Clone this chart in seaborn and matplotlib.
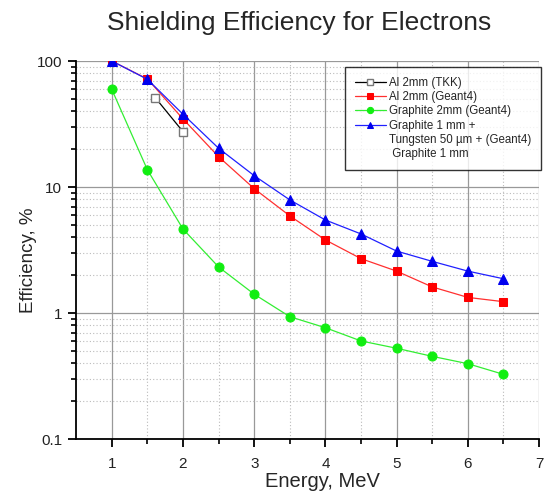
import numpy as np
import pandas as pd
import matplotlib
matplotlib.use("Agg")
import matplotlib.pyplot as plt
import seaborn as sns
from matplotlib.lines import Line2D
from matplotlib.ticker import LogLocator, FixedLocator, NullFormatter

# ---- data ----
energy = [1.0, 1.5, 2.0, 2.5, 3.0, 3.5, 4.0, 4.5, 5.0, 5.5, 6.0, 6.5]
al_geant4 = [100, 72, 34.7, 17.4, 9.7, 5.9, 3.8, 2.7, 2.15, 1.61, 1.33, 1.23]
graphite_2mm = [59.6, 13.7, 4.64, 2.32, 1.41, 0.935, 0.764, 0.60, 0.525, 0.453, 0.396, 0.326]
graphite_w = [100, 71.6, 37.8, 20.3, 12.3, 7.9, 5.47, 4.24, 3.10, 2.57, 2.15, 1.87]
tkk_energy = [1.61, 2.0]
al_tkk = [51.2, 27.5]

labels = ["Al 2mm (TKK)", "Al 2mm (Geant4)", "Graphite 2mm (Geant4)",
          "Graphite 1 mm +"]
extra_labels = ["Tungsten 50 \u00b5m + (Geant4)", " Graphite 1 mm"]
title = "Shielding Efficiency for Electrons"
xlabel = "Energy, MeV"
ylabel = "Efficiency, %"
xticks = [1, 2, 3, 4, 5, 6, 7]
yticks = [0.1, 1, 10, 100]
ytick_labels = ["0.1", "1", "10", "100"]

sns.set_style("white")
plt.rcParams["font.family"] = ["Liberation Sans", "DejaVu Sans"]

fig = plt.figure(figsize=(5.44, 4.94), dpi=100)
ax = fig.add_axes([0.14, 0.1113, 0.851, 0.7652])

sns.lineplot(x=tkk_energy, y=al_tkk, ax=ax, color="black", lw=0.9,
             marker="s", markersize=5.5, markerfacecolor="white",
             markeredgecolor="#777777", markeredgewidth=1.0, label=labels[0], zorder=4)
sns.lineplot(x=energy, y=al_geant4, ax=ax, color="#ff3030", lw=0.9,
             marker="s", markersize=6, markerfacecolor="red",
             markeredgecolor="red", label=labels[1], zorder=3)
sns.lineplot(x=energy, y=graphite_2mm, ax=ax, color="#33ee33", lw=0.9,
             marker="o", markersize=6.5, markerfacecolor="#11ee11",
             markeredgecolor="#11ee11", label=labels[2], zorder=3)
sns.lineplot(x=energy, y=graphite_w, ax=ax, color="#2020ff", lw=0.9,
             marker="^", markersize=7, markerfacecolor="#0000ee",
             markeredgecolor="#0000ee", label=labels[3], zorder=3)

ax.set_yscale("log")
ax.set_xlim(0.5, 7)
ax.set_ylim(0.1, 100)
ax.xaxis.set_major_locator(FixedLocator(xticks))
ax.xaxis.set_minor_locator(FixedLocator([1.5, 2.5, 3.5, 4.5, 5.5, 6.5]))
ax.set_yticks(yticks)
ax.set_yticklabels(ytick_labels)
ax.yaxis.set_minor_locator(LogLocator(base=10, subs=np.arange(2, 10)))
ax.yaxis.set_minor_formatter(NullFormatter())

ax.grid(which="major", color="#999999", lw=0.9, ls="-")
ax.grid(which="minor", color="#bbbbbb", lw=0.8, ls=(0, (1, 2)))
ax.set_axisbelow(True)

for s in ["top", "right"]:
    ax.spines[s].set_visible(False)
for s in ["left", "bottom"]:
    ax.spines[s].set_color("black")
    ax.spines[s].set_linewidth(1.3)

ax.tick_params(axis="both", which="major", direction="out", length=6, width=1.3,
               colors="black", labelsize=11, labelcolor="#222222", pad=4)
ax.tick_params(axis="x", which="major", pad=7)
ax.tick_params(axis="both", which="minor", direction="out", length=3.5, width=1.2,
               colors="black")
ax.tick_params(axis="x", which="both", bottom=True)
ax.tick_params(axis="y", which="both", left=True)

ax.set_xlabel(xlabel, fontsize=14.5)
ax.set_ylabel(ylabel, fontsize=13.5)
ax.xaxis.set_label_coords(0.531, -0.088)
ax.yaxis.set_label_coords(-0.085, 0.474)
fig.text(0.55, 0.953, title, ha="center", va="center", fontsize=19)

handles, labs = ax.get_legend_handles_labels()
blank = [Line2D([], [], lw=0, marker=None) for _ in extra_labels]
leg = ax.legend(handles + blank, labs + extra_labels, loc="upper right",
                bbox_to_anchor=(1.005, 0.984), fontsize=8.3,
                frameon=True, fancybox=False, shadow=False, handlelength=2.7,
                handletextpad=0.3, borderpad=0.85, labelspacing=0.2,
                borderaxespad=0.0)
leg.get_frame().set_edgecolor("black")
leg.get_frame().set_linewidth(1.0)
for h in leg.legend_handles:
    h.set_markersize(4.5)

fig.savefig("out.png", dpi=100)
